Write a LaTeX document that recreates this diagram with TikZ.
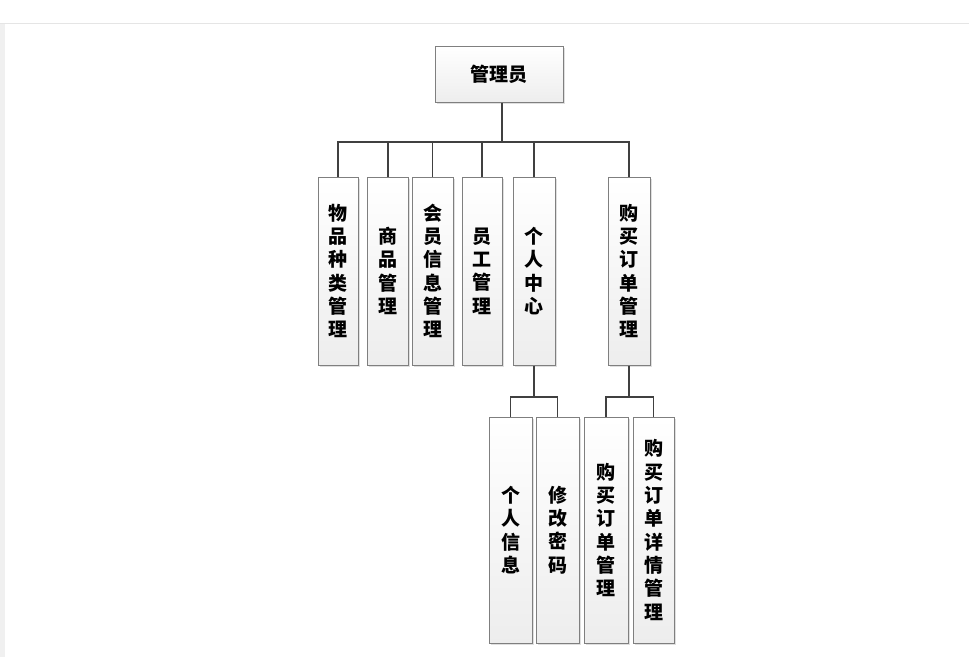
\documentclass[tikz,border=0pt]{standalone}
\usepackage{fontspec}
\newfontfamily\cjk{Noto Sans CJK SC}
\usetikzlibrary{shadows}
\definecolor{linecol}{HTML}{404040}
\definecolor{boxborder}{HTML}{7F7F7F}
\tikzset{
  box/.style={draw=boxborder, line width=1pt, top color=white, bottom color=gray!14,
    drop shadow={opacity=0.25, shadow xshift=1.5pt, shadow yshift=-1.5pt},
    align=center, inner sep=0pt, font=\cjk\bfseries\fontsize{19}{23.3}\selectfont},
  conn/.style={draw=linecol, line width=1.4pt}
}
\begin{document}
\begin{tikzpicture}[x=1pt,y=-1pt]
\useasboundingbox (0,0) rectangle (969,657);
\fill[white] (0,0) rectangle (969,657);
% window chrome
\fill[gray!12] (0,23) rectangle (5,657);
\draw[gray!20, line width=0.6pt] (0,23) -- (969,23);
% nodes
\node[box, minimum width=128pt, minimum height=56pt] (root) at (499,74) {管理员};
\node[box, minimum width=40pt, minimum height=188pt] (a1) at (338,271) {物\\品\\种\\类\\管\\理};
\node[box, minimum width=41pt, minimum height=188pt] (a2) at (388,271) {商\\品\\管\\理};
\node[box, minimum width=41pt, minimum height=188pt] (a3) at (432.5,271) {会\\员\\信\\息\\管\\理};
\node[box, minimum width=40pt, minimum height=188pt] (a4) at (482,271) {员\\工\\管\\理};
\node[box, minimum width=42pt, minimum height=188pt] (a5) at (534,271) {个\\人\\中\\心};
\node[box, minimum width=42pt, minimum height=188pt] (a6) at (629,271) {购\\买\\订\\单\\管\\理};
\node[box, minimum width=43pt, minimum height=226pt] (b1) at (510.5,530) {个\\人\\信\\息};
\node[box, minimum width=43pt, minimum height=226pt] (b2) at (557.5,530) {修\\改\\密\\码};
\node[box, minimum width=44pt, minimum height=226pt] (b3) at (606,530) {购\\买\\订\\单\\管\\理};
\node[box, minimum width=41pt, minimum height=226pt] (b4) at (653.5,530) {购\\买\\订\\单\\详\\情\\管\\理};
% connectors
\coordinate (bus) at (502,142);
\draw[conn] (root.south -| bus) -- (bus);
\draw[conn] (a1.north) -- (a1.north |- bus) -- (a6.north |- bus) -- (a6.north);
\foreach \n in {a2,a3,a4,a5} \draw[conn] (\n.north) -- (\n.north |- bus);
\coordinate (busL) at (534,397);
\draw[conn] (a5.south) -- (busL);
\draw[conn] (b1.north) -- (b1.north |- busL) -- (b2.north |- busL) -- (b2.north);
\coordinate (busR) at (629,397);
\draw[conn] (a6.south) -- (busR);
\draw[conn] (b3.north) -- (b3.north |- busR) -- (b4.north |- busR) -- (b4.north);
\end{tikzpicture}
\end{document}
